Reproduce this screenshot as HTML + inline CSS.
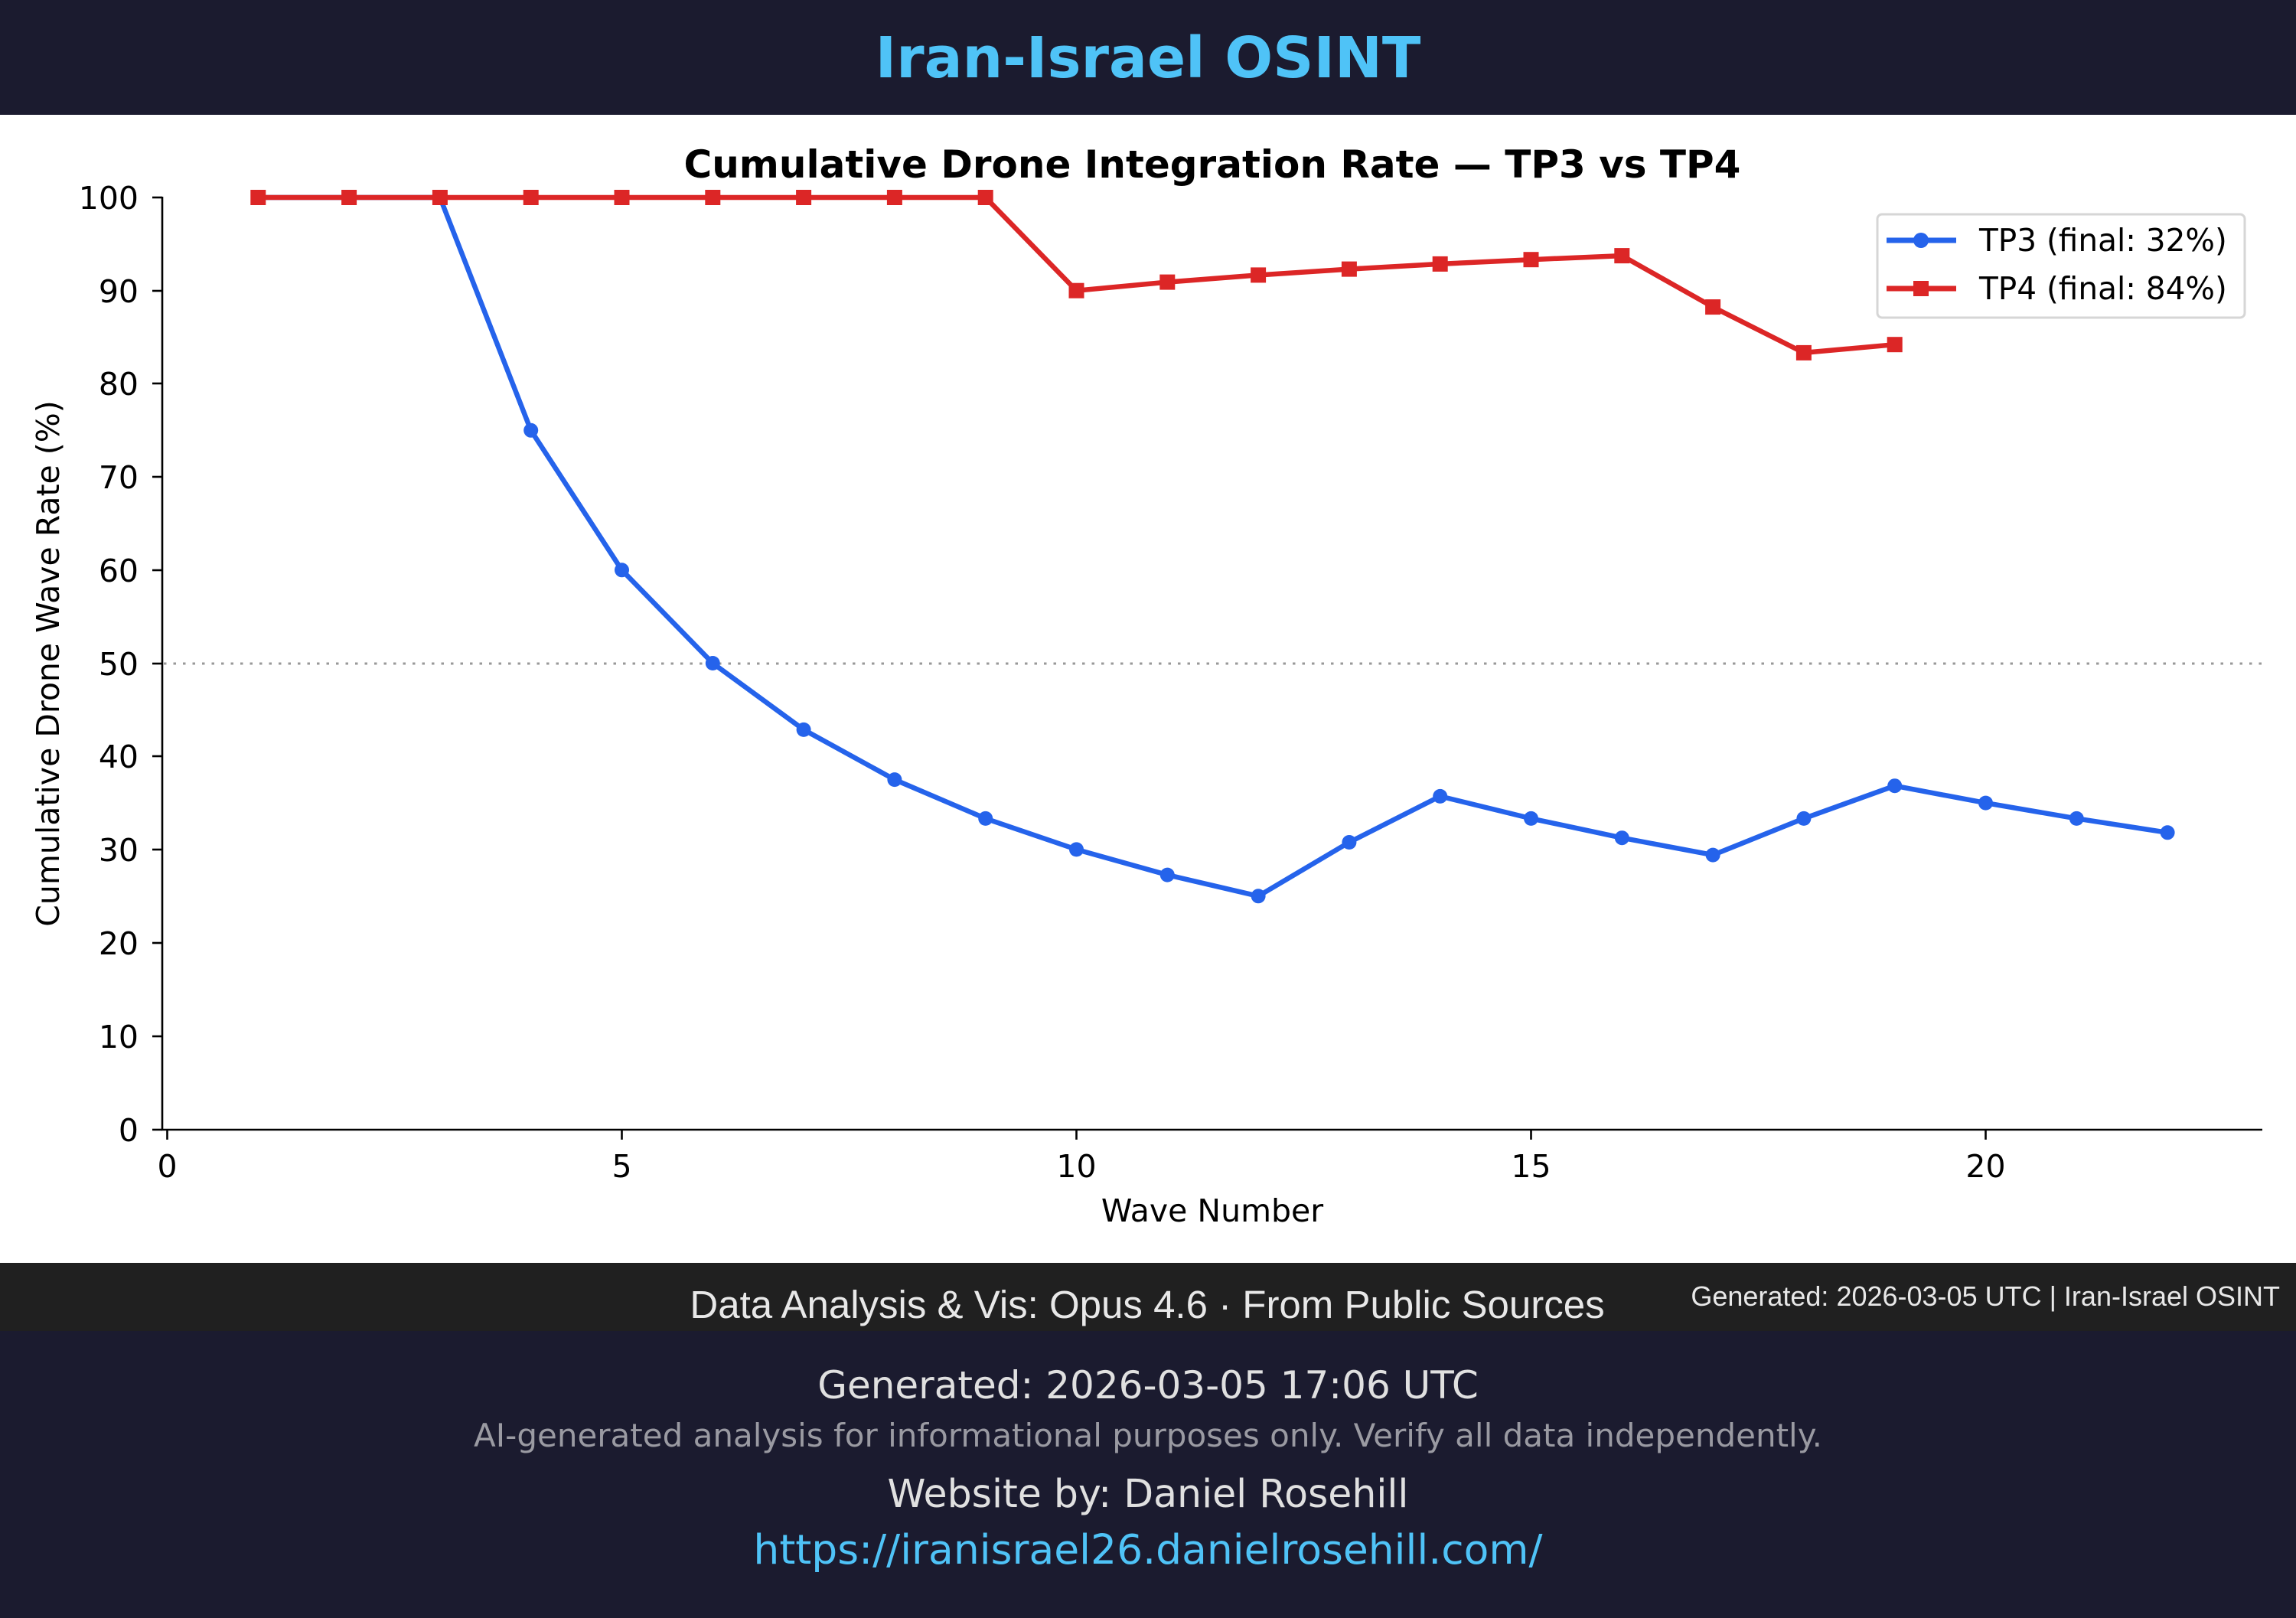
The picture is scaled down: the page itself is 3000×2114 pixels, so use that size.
<!DOCTYPE html>
<html><head><meta charset="utf-8">
<style>
html,body{margin:0;padding:0;background:#fff;}
body{width:3000px;height:2114px;overflow:hidden;}
svg{display:block;}
text{font-family:"DejaVu Sans","Liberation Sans",sans-serif;}
</style></head><body>
<svg width="3000" height="2114" viewBox="0 0 3000 2114" xmlns="http://www.w3.org/2000/svg">
<rect x="0" y="0" width="3000" height="150" fill="#1b1b2f"/>
<text x="1500" y="101" text-anchor="middle" font-size="74" font-weight="bold" fill="#4fc3f7">Iran-Israel OSINT</text>
<rect x="0" y="150" width="3000" height="1500" fill="#fff"/>
<text x="1584" y="232" text-anchor="middle" font-size="50" font-weight="bold" fill="#000">Cumulative Drone Integration Rate — TP3 vs TP4</text>

<line x1="214" y1="867" x2="2956" y2="867" stroke="#999" stroke-width="3" stroke-dasharray="3.5,9"/>

<line x1="212" y1="257" x2="212" y2="1477" stroke="#000" stroke-width="2.6"/>
<line x1="211" y1="1476" x2="2956" y2="1476" stroke="#000" stroke-width="2.6"/>
<g stroke="#000" stroke-width="2.6">
<line x1="199" y1="1476" x2="212" y2="1476"/>
<line x1="199" y1="1354" x2="212" y2="1354"/>
<line x1="199" y1="1232" x2="212" y2="1232"/>
<line x1="199" y1="1110" x2="212" y2="1110"/>
<line x1="199" y1="988" x2="212" y2="988"/>
<line x1="199" y1="867" x2="212" y2="867"/>
<line x1="199" y1="745" x2="212" y2="745"/>
<line x1="199" y1="623" x2="212" y2="623"/>
<line x1="199" y1="501" x2="212" y2="501"/>
<line x1="199" y1="380" x2="212" y2="380"/>
<line x1="199" y1="258" x2="212" y2="258"/>
<line x1="218.5" y1="1476" x2="218.5" y2="1489"/>
<line x1="812.5" y1="1476" x2="812.5" y2="1489"/>
<line x1="1406.5" y1="1476" x2="1406.5" y2="1489"/>
<line x1="2000.5" y1="1476" x2="2000.5" y2="1489"/>
<line x1="2594.5" y1="1476" x2="2594.5" y2="1489"/>
</g>
<g font-size="41" fill="#000" text-anchor="end">
<text x="181" y="1491">0</text>
<text x="181" y="1369">10</text>
<text x="181" y="1247">20</text>
<text x="181" y="1125">30</text>
<text x="181" y="1003">40</text>
<text x="181" y="882">50</text>
<text x="181" y="760">60</text>
<text x="181" y="638">70</text>
<text x="181" y="516">80</text>
<text x="181" y="395">90</text>
<text x="181" y="273">100</text>
</g>
<g font-size="41" fill="#000" text-anchor="middle">
<text x="218.5" y="1538">0</text>
<text x="812.5" y="1538">5</text>
<text x="1406.5" y="1538">10</text>
<text x="2000.5" y="1538">15</text>
<text x="2594.5" y="1538">20</text>
</g>
<text x="1584" y="1596" text-anchor="middle" font-size="41" fill="#000">Wave Number</text>
<text transform="translate(77,867) rotate(-90)" text-anchor="middle" font-size="41" fill="#000">Cumulative Drone Wave Rate (%)</text>

<polyline fill="none" stroke="#2563eb" stroke-width="6.5" stroke-linejoin="round" points="337.3,258 456.1,258 574.9,258 693.7,562.3 812.5,744.8 931.3,866.5 1050.1,953.4 1168.9,1018.6 1287.7,1069.4 1406.5,1109.9 1525.3,1143.1 1644.1,1170.8 1762.9,1100.5 1881.7,1040.4 2000.5,1069.4 2119.3,1094.7 2238.1,1117.1 2356.9,1069.4 2475.7,1026.7 2594.5,1049.1 2713.3,1069.4 2832.1,1087.8"/>
<g fill="#2563eb">
<circle cx="337.3" cy="258" r="9.5"/><circle cx="456.1" cy="258" r="9.5"/><circle cx="574.9" cy="258" r="9.5"/>
<circle cx="693.7" cy="562.3" r="9.5"/><circle cx="812.5" cy="744.8" r="9.5"/><circle cx="931.3" cy="866.5" r="9.5"/>
<circle cx="1050.1" cy="953.4" r="9.5"/><circle cx="1168.9" cy="1018.6" r="9.5"/><circle cx="1287.7" cy="1069.4" r="9.5"/>
<circle cx="1406.5" cy="1109.9" r="9.5"/><circle cx="1525.3" cy="1143.1" r="9.5"/><circle cx="1644.1" cy="1170.8" r="9.5"/>
<circle cx="1762.9" cy="1100.5" r="9.5"/><circle cx="1881.7" cy="1040.4" r="9.5"/><circle cx="2000.5" cy="1069.4" r="9.5"/>
<circle cx="2119.3" cy="1094.7" r="9.5"/><circle cx="2238.1" cy="1117.1" r="9.5"/><circle cx="2356.9" cy="1069.4" r="9.5"/>
<circle cx="2475.7" cy="1026.7" r="9.5"/><circle cx="2594.5" cy="1049.1" r="9.5"/><circle cx="2713.3" cy="1069.4" r="9.5"/>
<circle cx="2832.1" cy="1087.8" r="9.5"/>
</g>
<polyline fill="none" stroke="#dc2626" stroke-width="6.5" stroke-linejoin="round" points="337.3,258 456.1,258 574.9,258 693.7,258 812.5,258 931.3,258 1050.1,258 1168.9,258 1287.7,258 1406.5,379.7 1525.3,368.6 1644.1,359.4 1762.9,351.6 1881.7,344.9 2000.5,339.2 2119.3,334.1 2238.1,401.1 2356.9,460.9 2475.7,450.2"/>
<g fill="#dc2626">
<rect x="327.3" y="248" width="20" height="20"/><rect x="446.1" y="248" width="20" height="20"/><rect x="564.9" y="248" width="20" height="20"/>
<rect x="683.7" y="248" width="20" height="20"/><rect x="802.5" y="248" width="20" height="20"/><rect x="921.3" y="248" width="20" height="20"/>
<rect x="1040.1" y="248" width="20" height="20"/><rect x="1158.9" y="248" width="20" height="20"/><rect x="1277.7" y="248" width="20" height="20"/>
<rect x="1396.5" y="369.7" width="20" height="20"/><rect x="1515.3" y="358.6" width="20" height="20"/><rect x="1634.1" y="349.4" width="20" height="20"/>
<rect x="1752.9" y="341.6" width="20" height="20"/><rect x="1871.7" y="334.9" width="20" height="20"/><rect x="1990.5" y="329.2" width="20" height="20"/>
<rect x="2109.3" y="324.1" width="20" height="20"/><rect x="2228.1" y="391.1" width="20" height="20"/><rect x="2346.9" y="450.9" width="20" height="20"/>
<rect x="2465.7" y="440.2" width="20" height="20"/>
</g>

<rect x="2453" y="280" width="480" height="135" rx="6" fill="#fff" fill-opacity="0.9" stroke="#d6d6d6" stroke-width="3"/>
<line x1="2465" y1="314" x2="2556" y2="314" stroke="#2563eb" stroke-width="7"/>
<circle cx="2510" cy="314" r="10" fill="#2563eb"/>
<line x1="2465" y1="377" x2="2556" y2="377" stroke="#dc2626" stroke-width="7"/>
<rect x="2500" y="367" width="20" height="20" fill="#dc2626"/>
<text x="2586" y="328" font-size="40.6" fill="#000">TP3 (final: 32%)</text>
<text x="2586" y="391" font-size="40.6" fill="#000">TP4 (final: 84%)</text>

<rect x="0" y="1650" width="3000" height="89" fill="#202020"/>
<text x="1499" y="1722" text-anchor="middle" font-size="51" fill="#e8e8e8" style="font-family:'Liberation Sans',sans-serif">Data Analysis &amp; Vis: Opus 4.6 · From Public Sources</text>
<text x="2979" y="1706" text-anchor="end" font-size="36" fill="#e8e8e8" style="font-family:'Liberation Sans',sans-serif">Generated: 2026-03-05 UTC | Iran-Israel OSINT</text>
<rect x="0" y="1739" width="3000" height="375" fill="#1b1b2f"/>
<text x="1500" y="1827" text-anchor="middle" font-size="50" fill="#e0e0e0">Generated: 2026-03-05 17:06 UTC</text>
<text x="1500" y="1890" text-anchor="middle" font-size="42" fill="#9a9aa2">AI-generated analysis for informational purposes only. Verify all data independently.</text>
<text x="1500" y="1969" text-anchor="middle" font-size="50.5" fill="#e0e0e0">Website by: Daniel Rosehill</text>
<text x="1500" y="2043" text-anchor="middle" font-size="53.5" fill="#4fc3f7">https://iranisrael26.danielrosehill.com/</text>
</svg>
</body></html>
